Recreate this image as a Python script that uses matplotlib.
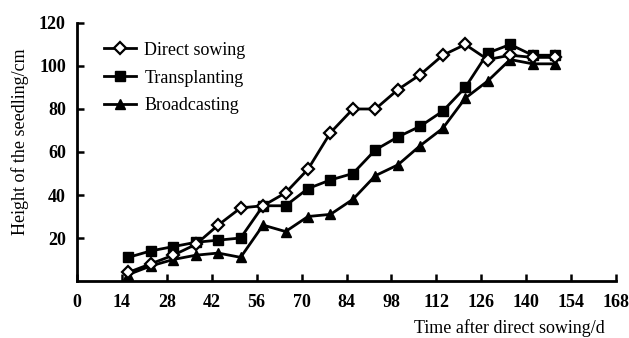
import numpy as np
import matplotlib
matplotlib.use("Agg")
import matplotlib.pyplot as plt

plt.rcParams["font.family"] = ["Liberation Serif", "DejaVu Serif"]

# sampling days (weekly)
days = [16, 23, 30, 37, 44, 51, 58, 65, 72, 79, 86, 93, 100, 107, 114, 121, 128, 135, 142, 149]

direct_sowing = [4, 8, 12, 17, 26, 34, 35, 41, 52, 69, 80, 80, 89, 96, 105, 110, 103, 105, 104, 104]
transplanting = [11, 14, 16, 18, 19, 20, 35, 35, 43, 47, 50, 61, 67, 72, 79, 90, 106, 110, 105, 105]
broadcasting = [3, 7, 10, 12, 13, 11, 26, 23, 30, 31, 38, 49, 54, 63, 71, 85, 93, 103, 101, 101]

x_ticks = [0, 14, 28, 42, 56, 70, 84, 98, 112, 126, 140, 154, 168]
y_ticks = [20, 40, 60, 80, 100, 120]

fig = plt.figure(figsize=(6.29, 3.38), dpi=100)
ax = fig.add_axes([0.1224, 0.1686, 0.8570, 0.7634])

lw = 2
ax.plot(days, direct_sowing, "-", color="black", lw=lw, marker="D", ms=6,
        mfc="white", mec="black", mew=1.6, label="Direct sowing", zorder=3)
ax.plot(days, transplanting, "-", color="black", lw=lw, marker="s", ms=7,
        mfc="black", mec="black", label="Transplanting", zorder=2)
ax.plot(days, broadcasting, "-", color="black", lw=lw, marker="^", ms=7.5,
        mfc="black", mec="black", label="Broadcasting", zorder=2)

ax.set_xlim(0, 168)
ax.set_ylim(0, 120)
ax.set_xticks(x_ticks)
ax.set_yticks(y_ticks)
ax.set_xticklabels([str(v) for v in x_ticks], fontsize=13, fontweight="bold")
ax.set_yticklabels([str(v) for v in y_ticks], fontsize=13, fontweight="bold")
ax.tick_params(axis="both", direction="in", length=5, width=1.8)
ax.tick_params(axis="x", pad=9)
ax.tick_params(axis="y", pad=8)

for s in ["top", "right"]:
    ax.spines[s].set_visible(False)
for s in ["left", "bottom"]:
    ax.spines[s].set_linewidth(2)

leg = ax.legend(loc="upper left", bbox_to_anchor=(0.036, 0.955), frameon=False,
                prop={"size": 13}, handlelength=1.8, handletextpad=0.45,
                labelspacing=0.6, borderaxespad=0)

fig.text(605 / 629, 1 - 328 / 338, "Time after direct sowing/d", ha="right",
         va="center", fontsize=13)
fig.text(20 / 629, 1 - 142 / 338, "Height of the seedling/cm", ha="center",
         va="center", rotation=90, fontsize=13)

fig.savefig("out.png", dpi=100)
